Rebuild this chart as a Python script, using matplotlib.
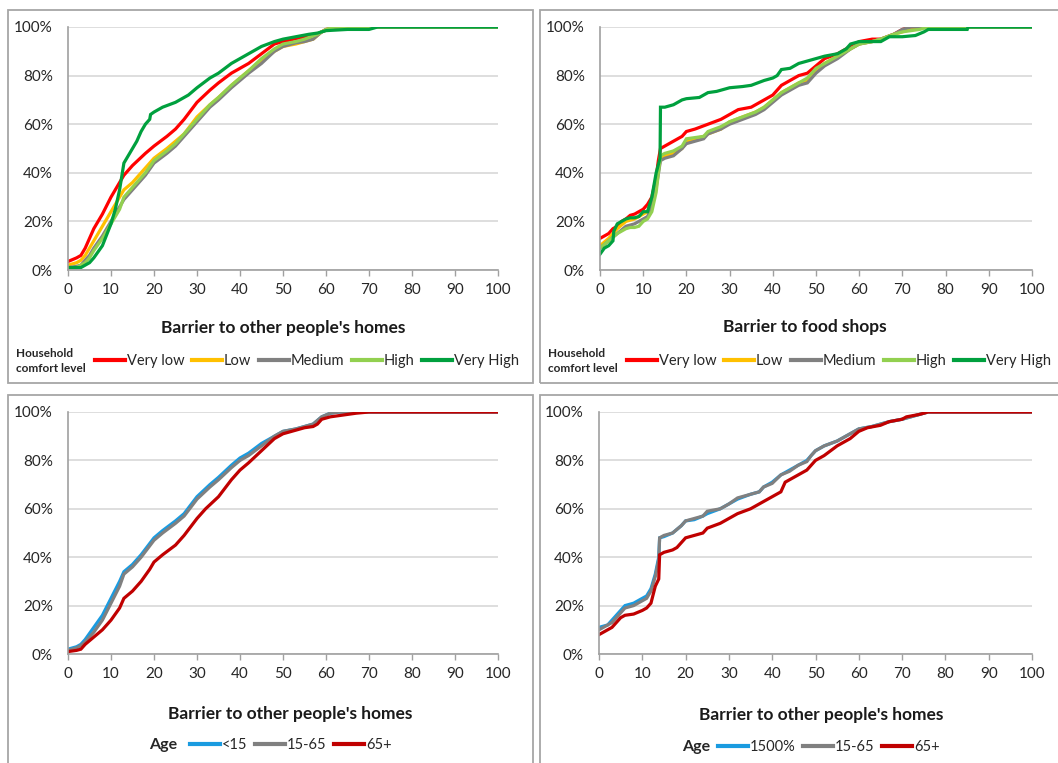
import matplotlib
matplotlib.use("Agg")
import matplotlib.pyplot as plt
from matplotlib.patches import Rectangle
from matplotlib.lines import Line2D

plt.rcParams['font.family'] = ['Lato', 'DejaVu Sans']

# ---------------- Barrier to other people's homes, by household comfort level
homes_vlow_x = [0, 2, 3, 4, 5, 6, 8, 10, 12, 13, 15, 18, 20, 23, 25, 27, 30, 33, 35, 38, 40, 42, 45, 48, 50, 55, 58, 60, 63, 100]
homes_vlow_y = [3.5, 5, 6, 9, 13, 17, 23, 30, 36, 39, 43, 48, 51, 55, 58, 62, 69, 74, 77, 81, 83, 85, 89, 93, 94, 96, 97, 99, 100, 100]

homes_low_x = [0, 2, 3, 4, 5, 6, 8, 10, 12, 13, 15, 18, 20, 23, 25, 27, 30, 33, 35, 38, 40, 42, 45, 48, 50, 53, 55, 57, 59, 62, 100]
homes_low_y = [2, 3, 4, 6, 9, 12, 18, 24, 30, 33, 36, 42, 46, 50, 53, 56, 63, 68, 71, 76, 79, 82, 86, 90, 92, 93, 94, 95, 98, 100, 100]

homes_med_x = [0, 2, 3, 4, 5, 6, 8, 10, 12, 13, 15, 18, 20, 23, 25, 27, 30, 33, 35, 38, 40, 42, 45, 48, 50, 53, 55, 57, 59, 62, 100]
homes_med_y = [1, 1.5, 2, 4, 6, 9, 14, 20, 26, 29, 33, 39, 44, 48, 51, 55, 61, 67, 70, 75, 78, 81, 85, 90, 92, 93.5, 94, 95, 98, 100, 100]

homes_high_x = [0, 2, 4, 5, 6, 8, 10, 12, 13, 15, 18, 20, 23, 25, 27, 30, 33, 35, 38, 40, 42, 45, 48, 50, 53, 55, 58, 60, 62, 100]
homes_high_y = [1, 1, 3, 5, 8, 13, 19, 25, 30, 34, 40, 45, 49, 52, 56, 62, 68, 71, 76, 79, 82, 87, 91, 93, 94, 95, 97, 99, 100, 100]

homes_vhigh_x = [0, 3, 4, 5, 6, 8, 10, 11, 12, 13, 14, 16, 17, 18, 19, 19.2, 20, 22, 25, 28, 30, 33, 35, 38, 40, 43, 45, 48, 50, 53, 56, 58, 60, 65, 70, 72, 100]
homes_vhigh_y = [1, 1, 2, 3, 5, 10, 19, 25, 33, 44, 47, 53, 57, 60, 62, 64, 65, 67, 69, 72, 75, 79, 81, 85, 87, 90, 92, 94, 95, 96, 97, 97.5, 98.5, 99, 99, 100, 100]

# ---------------- Barrier to food shops, by household comfort level
food_vlow_x = [0, 1, 2, 3, 4, 5, 6, 7, 8, 9, 10, 11, 12, 13, 13.5, 14, 15, 17, 18, 19, 20, 22, 25, 28, 30, 32, 35, 37, 40, 41, 42, 44, 46, 47, 48, 50, 52, 55, 58, 60, 63, 65, 68, 70, 72, 100]
food_vlow_y = [13, 14, 15, 17, 18, 20, 21, 22.5, 23, 24, 25, 27, 30, 38, 45, 50, 51, 53, 54, 55, 57, 58, 60, 62, 64, 66, 67, 69, 72, 74, 76, 78, 80, 80.5, 81, 84, 87, 89, 92, 94, 95, 95, 97, 99, 100, 100]

food_low_x = [0, 2, 4, 6, 8, 10, 11, 12, 13, 14, 15, 17, 19, 20, 22, 24, 25, 28, 30, 33, 36, 38, 40, 42, 44, 46, 48, 50, 52, 55, 58, 60, 63, 65, 68, 70, 72, 75, 100]
food_low_y = [10, 13, 17, 20, 21, 23, 24, 28, 36, 46, 47, 48, 50, 53, 54, 55, 56, 58, 61, 63, 65, 67, 70, 73, 75, 77, 78, 82, 85, 88, 91, 93, 94, 95, 97, 98, 99, 100, 100]

food_med_x = [0, 2, 4, 6, 8, 10, 11, 12, 13, 14, 15, 17, 19, 20, 22, 24, 25, 28, 30, 33, 36, 38, 40, 42, 44, 46, 48, 50, 52, 55, 58, 60, 63, 65, 68, 70, 72, 100]
food_med_y = [9, 12, 15, 18, 19, 21, 22, 26, 34, 45, 46, 47, 50, 52, 53, 54, 56, 58, 60, 62, 64, 66, 69, 72, 74, 76, 77, 81, 84, 87, 91, 93, 94, 95, 97, 99, 100, 100]

food_high_x = [0, 2, 4, 6, 7, 8, 9, 10, 11, 12, 13, 14, 15, 17, 19, 20, 22, 24, 25, 28, 30, 33, 36, 38, 40, 42, 44, 46, 48, 50, 52, 55, 58, 60, 63, 65, 68, 70, 72, 74, 76, 100]
food_high_y = [9, 12, 15, 17, 17.5, 17.5, 18, 20, 21, 24, 32, 47, 48, 49, 51, 54, 54.5, 55, 57, 59, 61, 63, 65, 67, 70, 73, 75, 77, 79, 83, 85, 88, 91, 93, 94, 95, 97, 98, 98.5, 99, 100, 100]

food_vhigh_x = [0, 1, 2, 3, 3.2, 4, 5, 6, 7, 8, 9, 10, 11, 12, 13, 13.9, 14, 15, 17, 18, 19, 20, 23, 24, 25, 27, 30, 33, 35, 38, 40, 41, 42, 44, 46, 48, 50, 52, 55, 57, 58, 60, 63, 65, 67, 70, 73, 75, 76, 80, 85, 85.2, 100]
food_vhigh_y = [6.5, 9, 10, 12, 16, 19, 20, 21, 21.5, 21.5, 22, 24, 24, 30, 40, 46, 67, 67, 68, 69, 70, 70.5, 71, 72, 73, 73.5, 75, 75.5, 76, 78, 79, 80, 82.5, 83, 85, 86, 87, 88, 89, 91, 93, 94, 94, 94, 96, 96, 96.5, 98, 99, 99, 99, 100, 100]

# ---------------- Barrier to other people's homes, by age group
age_homes_u15_x = [0, 2, 3, 4, 6, 8, 10, 12, 13, 15, 17, 20, 22, 25, 27, 30, 33, 35, 38, 40, 42, 45, 48, 50, 53, 55, 57, 59, 61, 63, 100]
age_homes_u15_y = [2, 3, 4, 6, 11, 16, 23, 30, 34, 37, 41, 48, 51, 55, 58, 65, 70, 73, 78, 81, 83, 87, 90, 92, 93, 94, 95, 98, 99.5, 100, 100]

age_homes_mid_x = [0, 2, 3, 4, 6, 8, 10, 12, 13, 15, 17, 20, 22, 25, 27, 30, 33, 35, 38, 40, 42, 45, 48, 50, 53, 55, 57, 59, 61, 63, 100]
age_homes_mid_y = [1.5, 2.5, 3.5, 5, 9, 14, 21, 28, 33, 36, 40, 47, 50, 54, 57, 64, 69, 72, 77, 80, 82, 86, 90, 92, 93, 94, 95, 98, 99.5, 100, 100]

age_homes_65_x = [0, 2, 3, 4, 6, 8, 10, 12, 13, 15, 17, 19, 20, 22, 25, 27, 30, 32, 35, 38, 40, 42, 45, 48, 50, 53, 55, 57, 58, 59, 61, 63, 65, 67, 70, 100]
age_homes_65_y = [1, 1.5, 2, 4, 7, 10, 14, 19, 23, 26, 30, 35, 38, 41, 45, 49, 56, 60, 65, 72, 76, 79, 84, 89, 91, 92.5, 93.5, 94, 95, 97, 98, 98.5, 99, 99.5, 100, 100]

# ---------------- Second panel by age group
age_b_u15_x = [0, 2, 3, 4, 5, 6, 8, 10, 11, 12, 13, 13.8, 14, 15, 17, 19, 20, 22, 24, 25, 28, 30, 32, 35, 37, 38, 40, 42, 44, 46, 48, 49, 50, 52, 55, 58, 60, 63, 65, 67, 70, 72, 74, 76, 100]
age_b_u15_y = [11, 12, 14, 16, 18, 20, 21, 23, 24, 27, 33, 40, 48, 48.5, 50, 53, 55, 55.5, 57, 58, 60, 62, 64, 66, 67, 69, 71, 74, 76, 78, 80, 82, 84, 86, 88, 91, 93, 94, 95, 96, 97, 98, 99, 100, 100]

age_b_mid_x = [0, 2, 3, 4, 5, 6, 8, 10, 11, 12, 13, 13.8, 14, 15, 17, 19, 20, 22, 24, 25, 28, 30, 32, 35, 37, 38, 40, 42, 44, 46, 48, 49, 50, 52, 55, 58, 60, 63, 65, 67, 70, 72, 74, 76, 100]
age_b_mid_y = [10, 12, 13, 15, 17, 19, 20, 22, 23, 26, 32, 39, 48, 49, 50, 53, 55, 56, 57, 59, 60, 62, 64.5, 66, 67, 69, 70.5, 74, 75.5, 78, 79.5, 82, 84, 86, 88, 91, 93, 94, 95, 96, 97, 98, 99, 100, 100]

age_b_65_x = [0, 2, 3, 4, 5, 6, 8, 10, 11, 12, 13, 13.8, 14, 15, 17, 18, 20, 22, 24, 25, 28, 30, 32, 35, 37, 40, 42, 43, 45, 47, 48, 49, 50, 52, 55, 58, 60, 62, 65, 67, 70, 71, 74, 76, 100]
age_b_65_y = [8, 10, 11, 13, 15, 16, 16.5, 18, 19, 21, 28, 31, 41, 42, 43, 44, 48, 49, 50, 52, 54, 56, 58, 60, 62, 65, 67, 71, 73, 75, 76, 78, 80, 82, 86, 89, 92, 93.5, 94.5, 96, 97, 98, 99, 100, 100]

comfort_labels = ["Very low", "Low", "Medium", "High", "Very High"]
comfort_colors = ["#FF0000", "#FFC000", "#808080", "#92D050", "#00A03E"]
age_labels_a = ["<15", "15-65", "65+"]
age_labels_b = ["1500%", "15-65", "65+"]
age_colors = ["#1A9BE0", "#808080", "#C00000"]

x_ticks = list(range(0, 101, 10))
y_ticks = [0, 20, 40, 60, 80, 100]
y_tick_labels = ["0%", "20%", "40%", "60%", "80%", "100%"]

W, H = 1058, 763
fig = plt.figure(figsize=(W / 100, H / 100), dpi=100)
fig.patch.set_facecolor("white")

# panel frames (right column and bottom row run off the page edge)
frame_color = "#A6A6A6"
for (x0, y0, x1, y1) in [(8, 10, 533, 383), (540, 10, 1070, 383),
                         (8, 395, 533, 775), (540, 395, 1070, 775)]:
    fig.add_artist(Rectangle((x0 / W, 1 - y1 / H), (x1 - x0) / W, (y1 - y0) / H,
                             transform=fig.transFigure, fill=False,
                             edgecolor=frame_color, lw=1.3, clip_on=False))


def make_axes(px_left, px_right, px_top, px_bottom):
    ax = fig.add_axes([px_left / W, 1 - px_bottom / H,
                       (px_right - px_left) / W, (px_bottom - px_top) / H])
    ax.set_xlim(0, 100)
    ax.set_ylim(0, 100)
    ax.set_xticks(x_ticks)
    ax.set_yticks(y_ticks)
    ax.set_yticklabels(y_tick_labels)
    for s in ["top", "right"]:
        ax.spines[s].set_visible(False)
    for s in ["left", "bottom"]:
        ax.spines[s].set_color("#A0A0A0")
        ax.spines[s].set_linewidth(1.2)
    ax.tick_params(axis="x", direction="out", length=4, width=1, color="#A0A0A0",
                   labelsize=11, labelcolor="#262626", pad=5)
    ax.tick_params(axis="y", length=0, labelsize=11, labelcolor="#262626", pad=11)
    ax.grid(axis="y", color="#D4D4D4", lw=1.1)
    ax.set_axisbelow(True)
    return ax


def draw(ax, series, colors, labels):
    for (xs, ys), c, lab in zip(series, colors, labels):
        ax.plot(xs, ys, color=c, lw=2.3, label=lab, solid_joinstyle="miter")


def legend_row(colors, labels, title, title_xy, anchor, title_size):
    handles = [Line2D([], [], color=c, lw=3) for c in colors]
    leg = fig.legend(handles, labels, loc="center left", bbox_to_anchor=anchor,
                     bbox_transform=fig.transFigure, ncol=len(labels), frameon=False,
                     handlelength=2.05, handletextpad=0.15, columnspacing=0.5,
                     fontsize=10.5, borderaxespad=0, borderpad=0)
    for t in leg.get_texts():
        t.set_color("#262626")
    fig.text(title_xy[0] / W, 1 - title_xy[1] / H, title, fontsize=title_size,
             fontweight="bold", color="#262626", ha="left", va="center",
             linespacing=1.35)


# top-left
ax1 = make_axes(68, 498, 27, 270)
draw(ax1, [(homes_vlow_x, homes_vlow_y), (homes_low_x, homes_low_y), (homes_med_x, homes_med_y),
           (homes_high_x, homes_high_y), (homes_vhigh_x, homes_vhigh_y)], comfort_colors, comfort_labels)
fig.text(283 / W, 1 - 328 / H, "Barrier to other people's homes", fontsize=12.5,
         fontweight="bold", ha="center", va="center", color="#1a1a1a")
legend_row(comfort_colors, comfort_labels, "Household\ncomfort level", (16, 361),
           (95 / W, 1 - 361 / H), 8.5)

# top-right
ax2 = make_axes(600, 1032, 27, 270)
draw(ax2, [(food_vlow_x, food_vlow_y), (food_low_x, food_low_y), (food_med_x, food_med_y),
           (food_high_x, food_high_y), (food_vhigh_x, food_vhigh_y)], comfort_colors, comfort_labels)
fig.text(805 / W, 1 - 327 / H, "Barrier to food shops", fontsize=12.5,
         fontweight="bold", ha="center", va="center", color="#1a1a1a")
legend_row(comfort_colors, comfort_labels, "Household\ncomfort level", (548, 361),
           (627 / W, 1 - 361 / H), 8.5)

# bottom-left
ax3 = make_axes(68, 498, 412, 654)
draw(ax3, [(age_homes_u15_x, age_homes_u15_y), (age_homes_mid_x, age_homes_mid_y),
           (age_homes_65_x, age_homes_65_y)], age_colors, age_labels_a)
fig.text(290 / W, 1 - 714 / H, "Barrier to other people's homes", fontsize=12.5,
         fontweight="bold", ha="center", va="center", color="#1a1a1a")
legend_row(age_colors, age_labels_a, "Age", (149, 745),
           (190 / W, 1 - 745 / H), 11.5)

# bottom-right
ax4 = make_axes(599, 1032, 412, 654)
draw(ax4, [(age_b_u15_x, age_b_u15_y), (age_b_mid_x, age_b_mid_y),
           (age_b_65_x, age_b_65_y)], age_colors, age_labels_b)
fig.text(821 / W, 1 - 715 / H, "Barrier to other people's homes", fontsize=12.5,
         fontweight="bold", ha="center", va="center", color="#1a1a1a")
legend_row(age_colors, age_labels_b, "Age", (682, 747),
           (718 / W, 1 - 747 / H), 11.5)

fig.savefig("out.png", dpi=100, facecolor="white")
